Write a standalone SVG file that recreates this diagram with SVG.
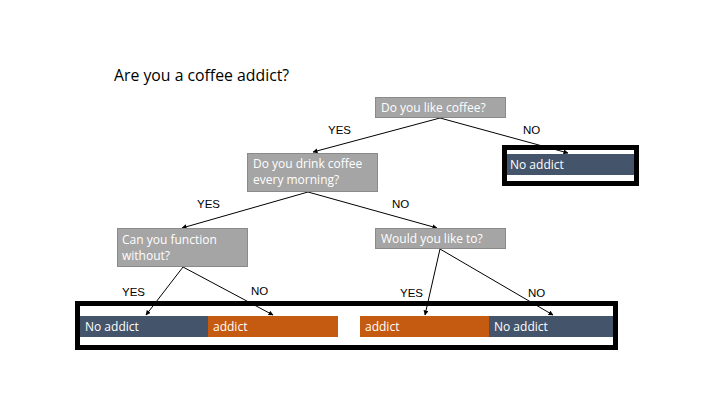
<svg xmlns="http://www.w3.org/2000/svg" width="720" height="405" viewBox="0 0 720 405">
  <defs>
    <marker id="arrow" viewBox="0 0 10 10" refX="9" refY="5" markerWidth="5" markerHeight="5" orient="auto-start-reverse">
      <path d="M0,0 L10,5 L0,10 z" fill="#000"/>
    </marker>
    <style>
      .q { fill: #A5A5A5; stroke: #8A8A8A; stroke-width: 1; }
      .t { font-family: "Open Sans", "Liberation Sans", sans-serif; font-size: 12px; fill: #fff; }
      .lbl { font-family: "Liberation Sans", Arial, sans-serif; font-size: 11.5px; fill: #000; }
      .blue { fill: #44546A; }
      .orange { fill: #C55A11; }
      .frame { fill: none; stroke: #000; stroke-width: 5; }
      .edge { stroke: #000; stroke-width: 1; fill: none; marker-end: url(#arrow); }
    </style>
  </defs>
  <rect width="720" height="405" fill="#fff"/>

  <text x="114" y="81" font-family="Open Sans, Liberation Sans, sans-serif" font-size="15.8" fill="#000">Are you a coffee addict?</text>

  <!-- connectors -->
  <g id="connectors">
    <line class="edge" x1="440" y1="118" x2="313" y2="152"/>
    <line class="edge" x1="440" y1="118" x2="568" y2="153"/>
    <line class="edge" x1="308" y1="192" x2="182" y2="228"/>
    <line class="edge" x1="308" y1="192" x2="437" y2="228"/>
    <line class="edge" x1="183" y1="267" x2="146" y2="315"/>
    <line class="edge" x1="183" y1="267" x2="273" y2="315"/>
    <line class="edge" x1="440" y1="249" x2="425" y2="315"/>
    <line class="edge" x1="440" y1="249" x2="553" y2="315"/>
    <text class="lbl" x="328" y="134">YES</text>
    <text class="lbl" x="523" y="134">NO</text>
    <text class="lbl" x="197" y="208">YES</text>
    <text class="lbl" x="392" y="208">NO</text>
    <text class="lbl" x="122" y="296">YES</text>
    <text class="lbl" x="251" y="295">NO</text>
    <text class="lbl" x="400" y="297">YES</text>
    <text class="lbl" x="528" y="297">NO</text>
  </g>

  <g id="q-like">
    <rect class="q" x="375.5" y="97.5" width="130" height="20"/>
    <text class="t" x="381" y="112">Do you like coffee?</text>
  </g>

  <g id="q-morning">
    <rect class="q" x="247.5" y="153.5" width="130" height="38"/>
    <text class="t" x="253" y="168">Do you drink coffee</text>
    <text class="t" x="253" y="184">every morning?</text>
  </g>

  <g id="q-function">
    <rect class="q" x="117.5" y="228.5" width="130" height="38"/>
    <text class="t" x="122" y="244">Can you function</text>
    <text class="t" x="122" y="260">without?</text>
  </g>

  <g id="q-would">
    <rect class="q" x="375.5" y="228.5" width="130" height="20"/>
    <text class="t" x="381" y="243">Would you like to?</text>
  </g>

  <g id="result-top">
    <rect class="frame" x="504.5" y="147.5" width="132" height="36"/>
    <rect class="blue" x="507" y="154" width="127" height="21"/>
    <text class="t" x="510" y="169">No addict</text>
  </g>

  <g id="results-bottom">
    <rect class="frame" x="77.5" y="303.5" width="538" height="44"/>
    <rect class="blue" x="80" y="316" width="128" height="21"/>
    <text class="t" x="85" y="331">No addict</text>
    <rect class="orange" x="208" y="316" width="130" height="21"/>
    <text class="t" x="213" y="331">addict</text>
    <rect class="orange" x="360" y="316" width="129" height="21"/>
    <text class="t" x="365" y="331">addict</text>
    <rect class="blue" x="489" y="316" width="124" height="21"/>
    <text class="t" x="494" y="331">No addict</text>
  </g>
</svg>
